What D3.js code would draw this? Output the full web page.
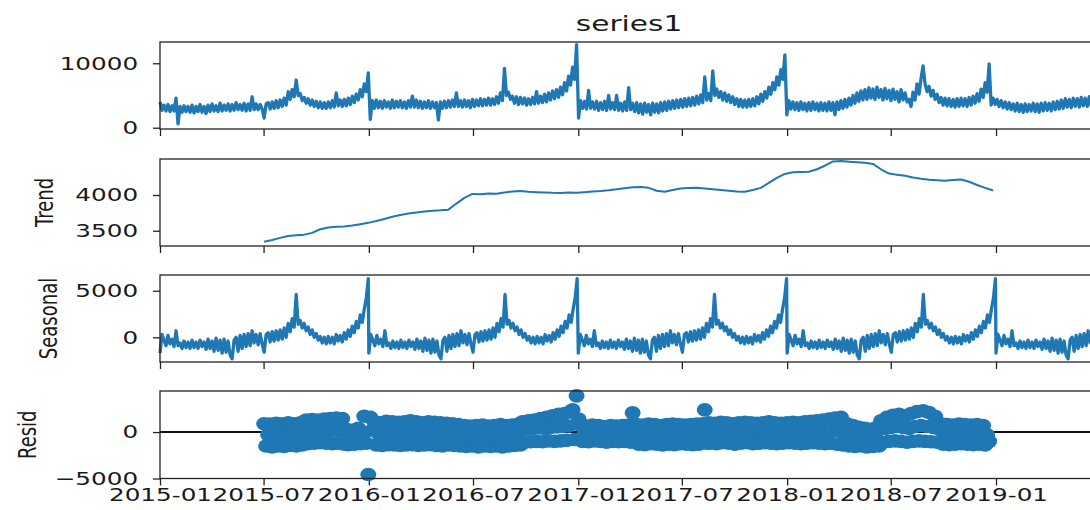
<!DOCTYPE html>
<html>
<head>
    <script src="https://d3js.org/d3.v7.min.js"></script>
    <style>
        body {margin: 0; background: #fff; font-family: "DejaVu Sans", sans-serif;}
        .frame {fill: none; stroke: #222; stroke-width: 1.3px;}
        .tick line {stroke: #222; stroke-width: 1.3px;}
        .tick text {fill: #1a1a1a; font-size: 18px; font-family: "DejaVu Sans", sans-serif;}
        .series {fill: none; stroke: #1f77b4; stroke-width: 3.3px; stroke-linejoin: round;}
        .dot {fill: #1f77b4;}
        .label {fill: #1a1a1a; font-size: 18px;}
    </style>
</head>
<body>
    <svg width="1090" height="510"></svg>
    <script>
        const startDate = new Date(2015, 0, 1);
        const endDate = new Date(2019, 5, 30);
        const observed = [
            4000, 2700, 3500, 2600, 3600, 2500, 3400, 2600, 4600, 600,
            3300, 2400, 3400, 2500, 3300, 2400, 3500, 2300, 3300, 2500,
            3600, 2400, 3300, 2200, 3500, 2500, 3700, 2600, 3400, 2500,
            3800, 2600, 3500, 2700, 3700, 2600, 3600, 2700, 3900, 2800,
            3600, 2700, 3800, 2600, 3700, 2700, 4800, 2800, 3700, 2800,
            3600, 2900, 1500, 3700, 3900, 2900, 4000, 3000, 4200, 3100,
            4300, 3300, 4600, 3500, 5600, 4400, 5900, 4800, 7400, 5000,
            5300, 4200, 4700, 3800, 4500, 3500, 4300, 3300, 4100, 3100,
            4000, 3000, 3900, 3000, 4000, 3100, 4200, 3200, 5400, 3400,
            4300, 3300, 4400, 3400, 4600, 3600, 4900, 3900, 5200, 4300,
            5900, 4800, 6800, 5600, 8500, 1300, 4200, 3000, 4300, 3100,
            4100, 3000, 4200, 3200, 4000, 3000, 4300, 3100, 4100, 3200,
            4200, 3100, 4000, 3000, 4200, 3200, 4900, 3200, 4300, 3100,
            4100, 3000, 4000, 3100, 4200, 3000, 4000, 3100, 3900, 1200,
            4000, 3000, 4100, 3100, 4200, 3200, 4300, 3300, 5400, 3300,
            4200, 3200, 4300, 3300, 4200, 3100, 4400, 3300, 4300, 3400,
            4500, 3400, 4400, 3500, 4600, 3500, 4500, 3600, 4800, 3800,
            5400, 4200, 9200, 5000, 5500, 4400, 4900, 3800, 4800, 3600,
            4700, 3700, 4600, 3500, 4500, 3600, 4700, 3700, 5600, 3800,
            4900, 3900, 5200, 4000, 5400, 4300, 5700, 4500, 5900, 4700,
            6300, 5100, 7000, 5700, 8000, 6600, 9400, 7500, 12900, 1500,
            4200, 3000, 4100, 2900, 5800, 3000, 4000, 2900, 4100, 2700,
            3900, 2800, 4100, 2700, 5000, 2900, 3900, 2800, 5000, 2700,
            3800, 2600, 4000, 2700, 6200, 2800, 3800, 2500, 3900, 2300,
            3700, 2100, 3800, 2400, 3600, 2000, 3800, 2400, 3700, 2300,
            3900, 2600, 4000, 2700, 4100, 2900, 4200, 3000, 4300, 3100,
            4400, 3200, 4500, 3300, 4600, 3400, 4700, 3500, 4900, 3700,
            5100, 3900, 7900, 4300, 5300, 4200, 8800, 5000, 6000, 4700,
            5600, 4300, 5400, 4100, 5100, 3900, 4800, 3600, 4500, 3300,
            4400, 3200, 4300, 3200, 4400, 3300, 4500, 3400, 4800, 3700,
            5200, 4100, 5600, 4600, 6300, 5200, 7000, 5900, 7900, 6600,
            9000, 7500, 11300, 2000, 4200, 2900, 4000, 2800, 3900, 2700,
            4000, 2800, 3800, 2600, 3900, 2700, 4000, 2800, 3800, 2600,
            3900, 2700, 3800, 2600, 4000, 2700, 3900, 2000, 4000, 2800,
            4200, 3000, 4400, 3200, 4600, 3500, 5000, 3800, 5400, 4100,
            5700, 4300, 5900, 4400, 6200, 4600, 6000, 4400, 6300, 4700,
            5900, 4300, 6100, 4500, 5800, 4200, 6000, 4400, 5600, 4000,
            5900, 4300, 5400, 4000, 4400, 3300, 5500, 4300, 6800, 5200,
            7600, 9600, 6800, 5600, 6400, 4900, 5800, 4400, 5200, 3900,
            4700, 3500, 4600, 3400, 4500, 3300, 4400, 3200, 4500, 3300,
            4600, 3400, 4500, 3300, 4700, 3500, 4900, 3800, 5300, 4100,
            6000, 4700, 7000, 5500, 9900, 3500, 4600, 3600, 4400, 3300,
            4200, 3100, 4000, 2900, 3900, 2800, 3700, 2600, 3800, 2500,
            3600, 2400, 3700, 2500, 3600, 2600, 3800, 2500, 3700, 2400,
            3800, 2600, 3900, 2700, 3800, 2600, 4000, 2800, 4100, 2900,
            4300, 3000, 4500, 3200, 4400, 3100, 4600, 3300, 4500, 3200,
            4700, 3400, 4600, 3300, 4800, 3400, 4700, 3300, 4600, 3500
        ];

        // trend: every 14 days from 2015-07-02
        const trendStart = new Date(2015, 6, 2);
        const trend = [
            3346, 3370, 3400, 3425, 3438, 3445, 3470, 3520, 3545, 3556,
            3560, 3572, 3590, 3610, 3635, 3665, 3695, 3720, 3740, 3755,
            3770, 3780, 3785, 3795, 3880, 3960, 4015, 4012, 4020, 4018,
            4035, 4050, 4055, 4045, 4040, 4035, 4030, 4028, 4035, 4030,
            4040, 4050, 4055, 4065, 4080, 4095, 4110, 4112, 4100, 4060,
            4045, 4070, 4090, 4098, 4100, 4092, 4082, 4070, 4058, 4048,
            4045, 4070, 4100, 4170, 4240, 4295, 4318, 4322, 4326, 4360,
            4410, 4470, 4475, 4466, 4458, 4450, 4435, 4360, 4300, 4285,
            4270, 4245, 4228, 4215, 4207, 4198, 4210, 4218, 4185, 4140,
            4100, 4062
        ];

        // seasonal: one year, every 3.5 days from 1 January, the same every year
        const seasonalYears = [2015, 2016, 2017, 2018, 2019];
        const seasonalYear = [
            -1700, 300, -300, -900, 200, -700, -200, -1000, 700, -900,
            -600, -1200, -400, -1100, -500, -1200, -300, -1100, -500, -1200,
            -300, -1000, -500, -1300, -200, -1200, -400, -1500, -100, -1400,
            -300, -1700, -200, -1600, -400, -1900, -2300, -300, 0, -1500,
            200, -1200, 300, -1000, 400, -900, 700, -600, 300, -800,
            400, -700, -1600, 300, 500, -500, 600, -400, 700, -300,
            800, -200, 1000, 0, 1500, 600, 2000, 1100, 4600, 1400,
            1800, 1000, 1500, 700, 1100, 300, 800, 0, 400, -300,
            100, -600, 0, -700, 100, -600, 0, -700, 300, -400,
            200, -500, 500, -200, 800, 100, 1200, 500, 1700, 1000,
            2400, 1600, 3000, 4200, 6300
        ];

        // resid: every 3.5 days from 2015-07-02
        const residStart = new Date(2015, 6, 2);
        const resid = [
            900, -1500, -300, 850, -1600, -400, 950, -1500, -200, 900, -1550, -350, 1000, -1450, -300,
            900, -1500, -250, 1000, -1400, -200,
            1300, -1250, 100, 1350, -1200, 200, 1300, -1150, 150, 1400, -1200, 100, 1450, -1250, 200,
            1500, -1200, 150, 1450, -1300,
            300, -1350, -500, 200, -1300, -600, 400, -1250, -450,
            1700, -1200, -4570, 1600, 200,
            1100, -1400, -150, 1000, -1450, -200, 1150, -1350, -100, 1100, -1400, -150,
            1050, -1450, -200, 1100, -1400, -100, 1200, -1350, -150, 1100, -1450, -200,
            1000, -1400, -150, 1100, -1350, -100, 1050, -1450, -200, 1000, -1500, -250,
            950, -1400, -200, 900, -1450, -250,
            800, -1500, -400, 700, -1550, -350, 650, -1500, -450, 700, -1600, -400,
            750, -1500, -350, 650, -1550, -450, 700, -1500, -400, 800, -1600, -350,
            700, -1500, -400, 750, -1450, -300, 850, -1400,
            1100, -1100, 300, 1200, -1050, 400, 1300, -1000, 450, 1450, -1050, 400,
            1600, -950, 500, 1750, -1000, 550, 1900, -950, 600, 2000, -900, 650, 2200,
            2400, -800, 3900, 1400,
            700, -1000, -150, 650, -1050, -100, 750, -950, -200, 700, -1000, -150,
            600, -1100, -150, 700, -1000, -100, 650, -1050, -200, 700, -1000, -150, 750,
            -1100, 2070, -200,
            800, -1300, -250, 750, -1350, -200, 850, -1250, -300, 800, -1300, -250,
            700, -1400, -250, 800, -1300, -200, 850, -1350, -300, 800, -1250, -250,
            750, -1300, -200, 800, -1350, -250, 850, -1300,
            -200, 900, 2390, -1200,
            1000, -1200, -100, 950, -1250, -50, 1050, -1150, -150, 1000, -1200, -100,
            900, -1300, -100, 1000, -1200, -50, 1050, -1150, -150, 1000, -1250, -100,
            950, -1200, -100, 1000, -1150, -50, 1100, -1200, -100, 1000, -1250, -150,
            950, -1200, -100, 1000, -1150, -50, 1050, -1200, -100, 1000, -1250, -150,
            1100, -1200, -100, 1150, -1150, -50, 1200, -1200, -100, 1300, -1250, 0,
            1400, -1200, 100, 1500, -1300, 200,
            1600,
            -1400, -300, 900, -1500, -400, 700, -1550, -450, 500, -1500, -500, 400, -1600, -500, 300,
            -1550, -450, 500, -1500,
            1200, -1100, 400, 1600, -1000, 500, 1800, -950, 600, 1900, -1000, 500,
            1700, -1100, 400, 2000, -1000, 600, 2200, -950, 700, 2300, -1000, 600,
            2100, -1050, 500, 1700, -1100, 300,
            900, -1300, -250, 800, -1350, -300, 750, -1300, -200, 850, -1250, -250,
            800, -1300, -300, 750, -1350, -250, 800, -1300, -200, 700, -1400, -300, -1000
        ];

        const xTicks = ["2015-01", "2015-07", "2016-01", "2016-07", "2017-01",
                        "2017-07", "2018-01", "2018-07", "2019-01"];
        const yTicksObserved = [0, 10000];
        const yTicksTrend = [3500, 4000];
        const yTicksSeasonal = [0, 5000];
        const yTicksResid = [-5000, 0];

        // the reference is stretched sideways, so the text is too
        const SX = 1.37;
        const STEP_HOURS = 84; // 3.5 days

        const svg = d3.select("svg");
        const x = d3.scaleTime().domain([startDate, endDate]).range([160, 1099]);
        const parseMonth = d3.timeParse("%Y-%m");
        const fmtNum = v => String(v).replace("-", "\u2212");

        const obsData = observed.map((v, i) => ({date: d3.timeHour.offset(startDate, STEP_HOURS * i), value: v}));
        const trendData = trend.map((v, i) => ({date: d3.timeDay.offset(trendStart, 14 * i), value: v}));
        let seasData = [];
        seasonalYears.forEach(yr => {
            let next = new Date(yr + 1, 0, 1);
            seasonalYear.forEach((v, k) => {
                let d = d3.timeHour.offset(new Date(yr, 0, 1), STEP_HOURS * k);
                if (d < next && d <= endDate) seasData.push({date: d, value: v});
            });
        });
        const residData = resid.map((v, i) => ({date: d3.timeHour.offset(residStart, STEP_HOURS * i), value: v}));

        const panels = [
            {top: 42, bottom: 129, domain: [-200, 13300], ticks: yTicksObserved, label: null},
            {top: 159, bottom: 246, domain: [3286, 4504], ticks: yTicksTrend, label: "Trend", lx: 53},
            {top: 275, bottom: 362, domain: [-2650, 6685], ticks: yTicksSeasonal, label: "Seasonal", lx: 57},
            {top: 391, bottom: 478.5, domain: [-5000, 4420], ticks: yTicksResid, label: "Resid", lx: 36}
        ];

        panels.forEach((p, idx) => {
            p.y = d3.scaleLinear().domain(p.domain).range([p.bottom, p.top]);
            let g = svg.append("g");

            // ticks under every panel, labels only under the last one
            let xa = d3.axisBottom(x)
                .tickValues(xTicks.map(parseMonth))
                .tickSize(7).tickPadding(3)
                .tickFormat(idx === 3 ? d3.timeFormat("%Y-%m") : "");
            let gx = g.append("g").attr("transform", `translate(0,${p.bottom})`).call(xa);
            gx.select(".domain").remove();
            gx.selectAll("text").attr("transform", `scale(${SX},1)`);

            let ya = d3.axisLeft(p.y).tickValues(p.ticks).tickSize(7).tickPadding(9).tickFormat(fmtNum);
            let gy = g.append("g").attr("transform", "translate(160,0)").call(ya);
            gy.select(".domain").remove();
            gy.selectAll("text").attr("transform", `scale(${SX},1)`);

            if (p.label) {
                g.append("text").attr("class", "label")
                    .attr("text-anchor", "middle")
                    .attr("transform", `translate(${p.lx},${(p.top + p.bottom) / 2}) scale(${SX},1) rotate(-90)`)
                    .text(p.label);
            }
        });

        const line = (y) => d3.line().x(d => x(d.date)).y(d => y(d.value));

        svg.append("path").datum(obsData).attr("class", "series").attr("d", line(panels[0].y));
        svg.append("path").datum(trendData).attr("class", "series").style("stroke-width", "2px").attr("d", line(panels[1].y));
        svg.append("path").datum(seasData).attr("class", "series").attr("d", line(panels[2].y));

        // resid: zero line behind the dots
        svg.append("line")
            .attr("x1", 160).attr("x2", 1099)
            .attr("y1", panels[3].y(0)).attr("y2", panels[3].y(0))
            .attr("stroke", "#111").attr("stroke-width", 2);
        svg.selectAll(".dot").data(residData).enter().append("ellipse")
            .attr("class", "dot")
            .attr("cx", d => x(d.date))
            .attr("cy", d => panels[3].y(d.value))
            .attr("rx", 8).attr("ry", 6.8);

        panels.forEach(p => {
            svg.append("rect").attr("class", "frame")
                .attr("x", 160).attr("y", p.top)
                .attr("width", 939).attr("height", p.bottom - p.top);
        });

        svg.append("text")
            .attr("text-anchor", "middle")
            .attr("transform", `translate(629,31) scale(${SX},1)`)
            .style("font-size", "21.6px").style("fill", "#1a1a1a")
            .text("series1");
    </script>
</body>
</html>
